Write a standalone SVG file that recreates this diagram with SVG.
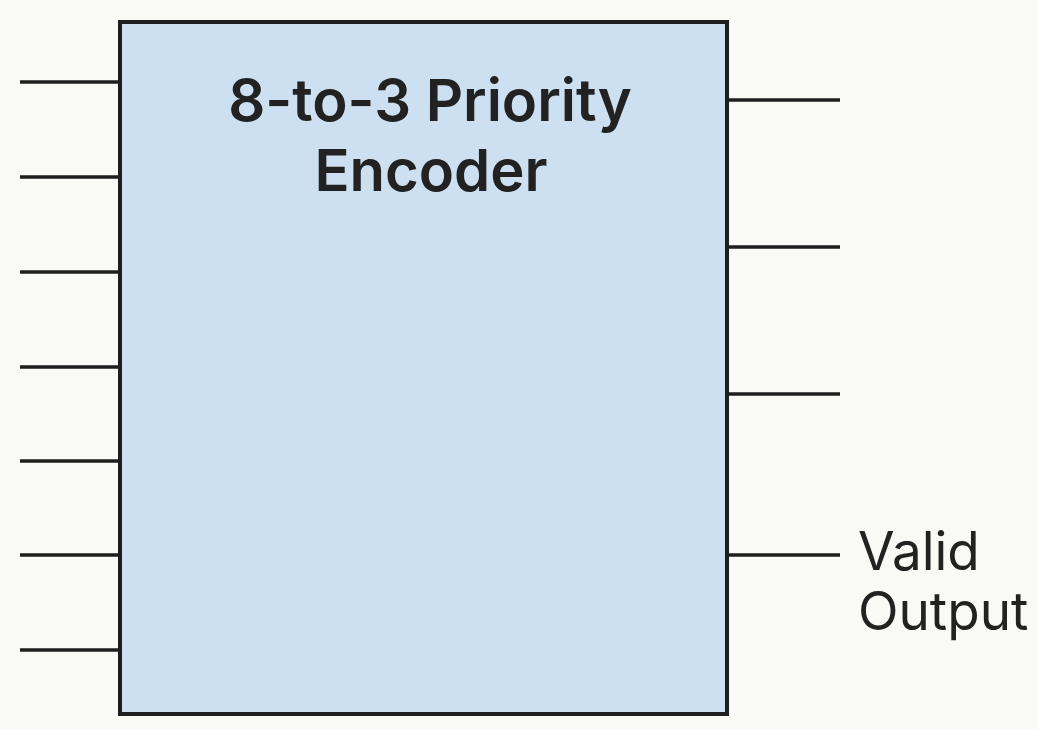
<svg xmlns="http://www.w3.org/2000/svg" width="1038" height="729" viewBox="0 0 1038 729">
<style>
.wire{stroke:#1e1e1e;stroke-width:3.5;fill:none}
.title{font-family:Inter,"Liberation Sans",sans-serif;font-weight:600;font-size:58px;fill:#222;text-anchor:middle}
.lbl{font-family:Inter,"Liberation Sans",sans-serif;font-size:53px;fill:#222}
</style>
<rect width="1038" height="729" fill="#f9f9f6"/>
<g id="encoder">
<rect x="120" y="22" width="607" height="692" fill="#cce0f2" stroke="#1e1e1e" stroke-width="4"/>
<text class="title" x="430" y="121">8-to-3 Priority</text>
<text class="title" x="431" y="191">Encoder</text>
</g>
<g id="connectors">
<line class="wire" x1="20" y1="82" x2="119" y2="82"/>
<line class="wire" x1="20" y1="177" x2="119" y2="177"/>
<line class="wire" x1="20" y1="272" x2="119" y2="272"/>
<line class="wire" x1="20" y1="367" x2="119" y2="367"/>
<line class="wire" x1="20" y1="461" x2="119" y2="461"/>
<line class="wire" x1="20" y1="555" x2="119" y2="555"/>
<line class="wire" x1="20" y1="650" x2="119" y2="650"/>
<line class="wire" x1="728" y1="100" x2="840" y2="100"/>
<line class="wire" x1="728" y1="247" x2="840" y2="247"/>
<line class="wire" x1="728" y1="394" x2="840" y2="394"/>
<line class="wire" x1="728" y1="555" x2="840" y2="555"/>
</g>
<g id="valid-label">
<text class="lbl" x="858" y="570">Valid</text>
<text class="lbl" x="858" y="630">Output</text>
</g>
</svg>
